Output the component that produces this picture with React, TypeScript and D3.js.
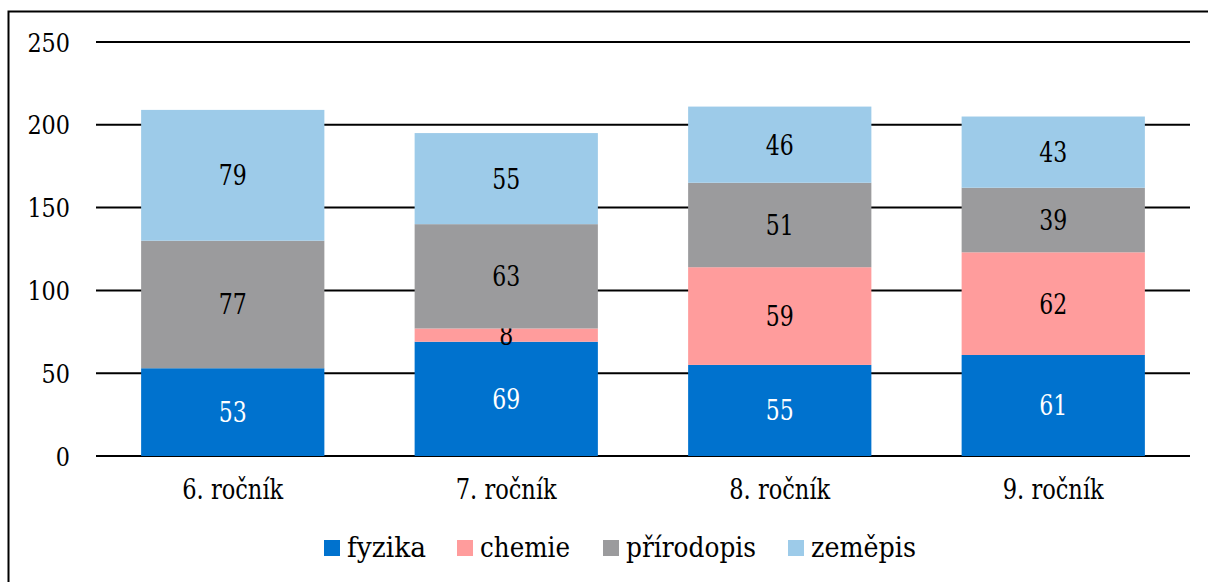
import { useEffect, useRef } from 'react';
import * as d3 from 'd3';

const categories = ['6. ročník', '7. ročník', '8. ročník', '9. ročník'];
const seriesNames = ['fyzika', 'chemie', 'přírodopis', 'zeměpis'];
const fyzika = [53, 69, 55, 61];
const chemie = [0, 8, 59, 62];
const prirodopis = [77, 63, 51, 39];
const zemepis = [79, 55, 46, 43];
const yTicks = [0, 50, 100, 150, 200, 250];

const colors = ['#0072CE', '#FF9C9C', '#9B9B9D', '#9DCBE9'];
const labelColors = ['#ffffff', '#000000', '#000000', '#000000'];

const W = 1208;
const H = 582;

export default function App() {
  const svgRef = useRef<SVGSVGElement>(null);

  useEffect(() => {
    const svg = d3.select(svgRef.current);
    svg.selectAll('*').remove();

    // frame (only top and left edges are visible in the crop)
    svg.append('rect')
      .attr('x', 8.5).attr('y', 11.5)
      .attr('width', W + 20).attr('height', H + 20)
      .attr('fill', 'none').attr('stroke', '#000').attr('stroke-width', 2);

    const x = d3.scaleBand().domain(categories).range([96, 1190]).paddingInner(0.33).paddingOuter(0.165);
    const y = d3.scaleLinear().domain([0, 250]).range([456, 42]);

    // gridlines
    svg.append('g').selectAll('line').data(yTicks).enter().append('line')
      .attr('x1', 96).attr('x2', 1190)
      .attr('y1', d => y(d)).attr('y2', d => y(d))
      .attr('stroke', '#000').attr('stroke-width', 2);

    // y tick labels (textLength squeezes DejaVu Serif to Times-like widths)
    svg.append('g').selectAll('text').data(yTicks).enter().append('text')
      .attr('x', 70).attr('y', d => y(d) + 9.5)
      .attr('text-anchor', 'end')
      .attr('font-size', 26)
      .attr('textLength', d => String(d).length * 14.2)
      .attr('lengthAdjust', 'spacingAndGlyphs')
      .text(d => d);

    const rows = categories.map((c, i) => ({
      cat: c,
      fyzika: fyzika[i],
      chemie: chemie[i],
      'přírodopis': prirodopis[i],
      'zeměpis': zemepis[i],
    }));
    const stack = d3.stack<any>().keys(seriesNames)(rows);

    stack.forEach((layer, si) => {
      const g = svg.append('g');
      g.selectAll('rect').data(layer).enter().append('rect')
        .attr('x', d => x(d.data.cat) as number)
        .attr('width', x.bandwidth())
        .attr('y', d => y(d[1]))
        .attr('height', d => y(d[0]) - y(d[1]))
        .attr('fill', colors[si]);
      g.selectAll('text').data(layer.filter(d => d[1] - d[0] > 0)).enter().append('text')
        .attr('x', d => (x(d.data.cat) as number) + x.bandwidth() / 2)
        .attr('y', d => (y(d[0]) + y(d[1])) / 2 + 10)
        .attr('text-anchor', 'middle')
        .attr('font-size', 27)
        .attr('textLength', d => String(d[1] - d[0]).length * 14)
        .attr('lengthAdjust', 'spacingAndGlyphs')
        .attr('fill', labelColors[si])
        .text(d => d[1] - d[0]);
    });

    // category labels
    svg.append('g').selectAll('text').data(categories).enter().append('text')
      .attr('x', d => (x(d) as number) + x.bandwidth() / 2)
      .attr('y', 499)
      .attr('text-anchor', 'middle')
      .attr('font-size', 27)
      .attr('textLength', 101)
      .attr('lengthAdjust', 'spacingAndGlyphs')
      .text(d => d);

    // legend
    const legendX = [324, 457, 603, 788];
    const legendW = [79, 90, 130, 105];
    const lg = svg.append('g');
    seriesNames.forEach((name, i) => {
      lg.append('rect')
        .attr('x', legendX[i]).attr('y', 540)
        .attr('width', 16).attr('height', 16)
        .attr('fill', colors[i]);
      lg.append('text')
        .attr('x', legendX[i] + 23).attr('y', 556.5)
        .attr('font-size', 27)
        .attr('textLength', legendW[i])
        .attr('lengthAdjust', 'spacingAndGlyphs')
        .text(name);
    });
  }, []);

  return (
    <svg
      ref={svgRef}
      width={W}
      height={H}
      style={{
        position: 'absolute', left: 0, top: 0, background: '#fff',
        fontFamily: "'DejaVu Serif', serif",
      }}
    />
  );
}
